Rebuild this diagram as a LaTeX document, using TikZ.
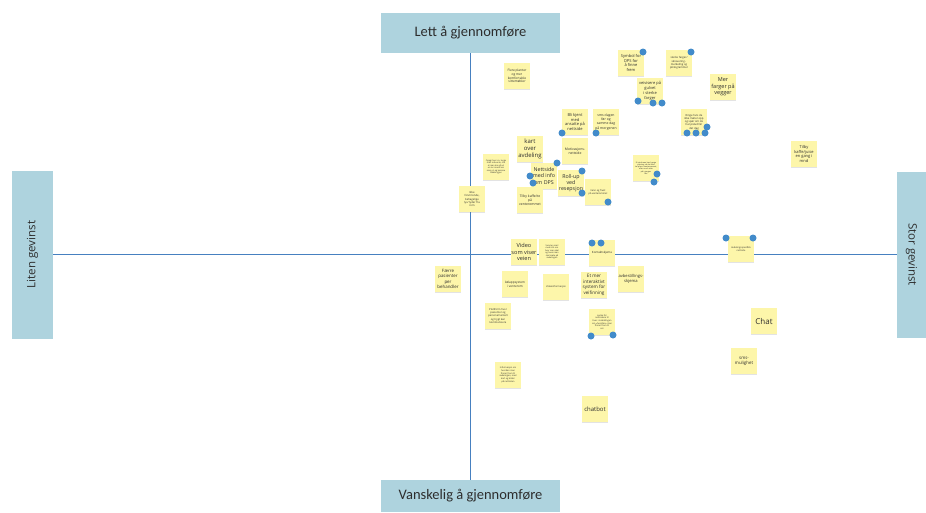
\documentclass[tikz,border=0pt]{standalone}
\usepackage{fontspec}
\setmainfont{Open Sans}
\newfontfamily\calibri{Carlito}
\usepackage{tikz}
\usetikzlibrary{shadows}
\definecolor{lappgul}{RGB}{253,246,170}
\definecolor{aksebla}{RGB}{174,211,222}
\definecolor{strekbla}{RGB}{70,128,192}
\definecolor{prikkbla}{RGB}{66,139,202}
\definecolor{tekstgra}{RGB}{45,45,45}
\newcommand{\lappskrift}[1]{\fontsize{#1}{\fpeval{1.2*#1}}\selectfont}

\begin{document}
\begin{tikzpicture}[x=1pt, y=-1pt]
\tikzstyle{akse} = [rectangle, fill=aksebla, text=tekstgra, inner sep=0pt]
\tikzstyle{lapp} = [rectangle, fill=lappgul, minimum width=26pt, minimum height=26pt, inner sep=0.5pt, align=center, text=tekstgra, drop shadow={shadow xshift=0pt, shadow yshift=-1.2pt, opacity=0.22}]
\tikzstyle{prikk} = [circle, fill=prikkbla, minimum size=7pt, inner sep=0pt]
\tikzstyle{linje} = [strekbla, line width=0.8pt]

\useasboundingbox (0,0) rectangle (926,512);

% aksene
\node (topp) [akse, minimum width=179pt, minimum height=40pt, font=\calibri\fontsize{14.5}{16}\selectfont] at (470.5,33) {Lett å gjennomføre};
\node (bunn) [akse, minimum width=179pt, minimum height=32pt, font=\calibri\fontsize{14.5}{16}\selectfont] at (470.5,496) {Vanskelig å gjennomføre};
\node (venstre) [akse, rotate=90, minimum width=168pt, minimum height=41pt, font=\fontsize{11.5}{13}\selectfont] at (32.5,254.5) {Liten gevinst};
\node (hoyre) [akse, rotate=-90, minimum width=166pt, minimum height=29pt, font=\fontsize{11.5}{13}\selectfont] at (911.5,254.5) {Stor gevinst};

\draw [linje] (topp) -- (bunn);
\draw [linje] (venstre) -- (hoyre);

% lappene
\node (n1) [lapp, font=\lappskrift{3.2}] at (517,76) {Flere planter\\og mer\\komfortable\\sittemøbler};
\node (n2) [lapp, font=\lappskrift{4}] at (631,63) {Symbol for\\DPS for\\å finne\\frem};
\node (n3) [lapp, font=\lappskrift{2.7}] at (679,63) {sterke farger/\\skravering -\\merkeling og\\piktogrammer};
\node (n4) [lapp, font=\lappskrift{4}] at (650,91) {veivisere på\\gulvet\\i sterke\\farger};
\node (n5) [lapp, font=\lappskrift{5.5}] at (723,87) {Mer\\farger på\\vegger};
\node (n6) [lapp, font=\lappskrift{4}] at (575,122) {Bli kjent\\med\\ansatte på\\nettside};
\node (n7) [lapp, font=\lappskrift{3.4}] at (606,122) {sms dagen\\før og\\samme dag\\på morgenen};
\node (n8) [lapp, font=\lappskrift{2.7}] at (694,122) {Ringe hvis de\\ikke møter opp\\og spør om de\\har prøvd før\\det dag};
\node (n9) [lapp, font=\lappskrift{4}] at (804,154) {Tilby\\kaffe/juice\\en gang i\\mnd};
\node (n10) [lapp, font=\lappskrift{6}] at (530,149) {kart\\over\\avdeling};
\node (n11) [lapp, font=\lappskrift{3.4}] at (575,151) {Motivasjons-\\nettside};
\node (n12) [lapp, font=\lappskrift{2.1}] at (496,167) {Oppgi hvor ca. lenge\\man må vente, slik\\at man kan gå ut\\en tur imens om\\man vil, og komme\\tilbake igjen};
\node (n13) [lapp, font=\lappskrift{5.3}] at (544,176) {Nettside\\med info\\om DPS};
\node (n14) [lapp, font=\lappskrift{5.3}] at (571,183) {Roll-up\\ved\\resepsjon};
\node (n15) [lapp, font=\lappskrift{1.9}] at (646,168) {Et sted man kan henge\\yttertøy, så det ikke\\tar plass i venterommet,\\eller noe å sitte\\på i gangen\\ute};
\node (n16) [lapp, font=\lappskrift{2.7}] at (472,199) {Ikke\\forvirrende,\\behagelige\\lys/ lyder fra\\rom};
\node (n17) [lapp, font=\lappskrift{3.4}] at (530,200) {Tilby kaffe/te\\på\\venterommet};
\node (n18) [lapp, font=\lappskrift{2.4}] at (598,192) {Vann og frukt\\på venterommet};
\node (n19) [lapp, font=\lappskrift{5.6}] at (524,252) {Video\\som viser\\veien};
\node (n20) [lapp, font=\lappskrift{2.1}] at (552,252) {Send en mail\\med info om\\hvor man skal\\og hvem man\\skal møte på\\avdelingen};
\node (n21) [lapp, font=\lappskrift{2.9}] at (602,253) {Kontaktskjema};
\node (n22) [lapp, font=\lappskrift{2.3}] at (741,249) {Avdelingsspesifikk\\nettside};
\node (n23) [lapp, font=\lappskrift{4.4}] at (448,279) {Færre\\pasienter\\per\\behandler};
\node (n24) [lapp, font=\lappskrift{3.1}] at (515,284) {kølappsystem\\i venterom};
\node (n25) [lapp, font=\lappskrift{2.4}] at (556,287) {Videoinformasjon};
\node (n26) [lapp, font=\lappskrift{4.6}] at (594,285) {Et mer\\interaktivt\\system for\\veifinning};
\node (n27) [lapp, font=\lappskrift{4.1}] at (631,279) {avbestillings-\\skjema};
\node (n28) [lapp, font=\lappskrift{2.6}] at (498,316) {Plattform hvor\\pasienter og\\personell enkelt\\og trygt kan\\kommunisere};
\node (n29) [lapp, font=\lappskrift{2.2}] at (602,322) {Lenke for\\nettsidene til\\hver i innkallingen\\om «hvordan» man\\finner frem til\\oss};
\node (n30) [lapp, font=\lappskrift{8}] at (764,321) {Chat};
\node (n31) [lapp, font=\lappskrift{4.4}] at (744,361) {sms-\\mulighet};
\node (n32) [lapp, font=\lappskrift{2.2}] at (508,375) {Informasjon om\\hvordan man\\finner frem til\\avdelingen, med\\kart og bilder\\på nettsiden};
\node (n33) [lapp, font=\lappskrift{6}] at (595,409) {chatbot};

% stemmene
\node (p1) [prikk] at (643,52) {};
\node (p2) [prikk] at (691,52) {};
\node (p3) [prikk] at (638,101) {};
\node (p4) [prikk] at (653,103) {};
\node (p5) [prikk] at (662,103) {};
\node (p6) [prikk] at (707,127) {};
\node (p7) [prikk] at (687,133) {};
\node (p8) [prikk] at (696,133) {};
\node (p9) [prikk] at (705,133) {};
\node (p10) [prikk] at (562,133) {};
\node (p11) [prikk] at (596,133) {};
\node (p12) [prikk] at (557,163) {};
\node (p13) [prikk] at (530,176) {};
\node (p14) [prikk] at (533,183) {};
\node (p15) [prikk] at (582,171) {};
\node (p16) [prikk] at (582,193) {};
\node (p17) [prikk] at (608,202) {};
\node (p18) [prikk] at (657,174) {};
\node (p19) [prikk] at (654,182) {};
\node (p20) [prikk] at (592,243) {};
\node (p21) [prikk] at (601,243) {};
\node (p22) [prikk] at (726,238) {};
\node (p23) [prikk] at (753,238) {};
\node (p24) [prikk] at (591,336) {};
\node (p25) [prikk] at (613,335) {};
\end{tikzpicture}
\end{document}
